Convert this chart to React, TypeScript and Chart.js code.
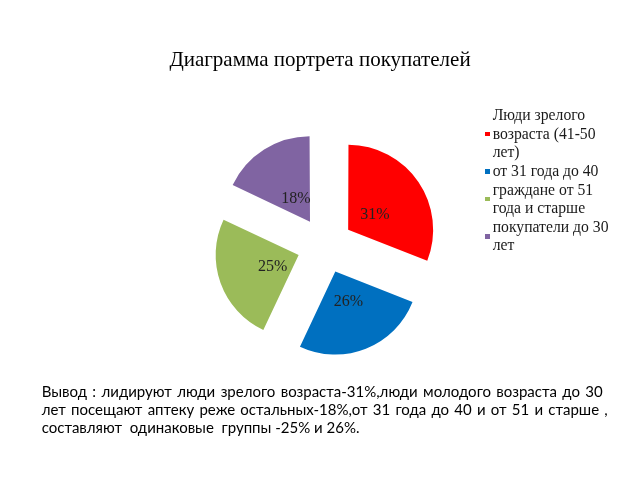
import React, { useEffect, useRef } from "react";
import { Chart, registerables } from "chart.js";

Chart.register(...registerables);

const titleText = "Диаграмма портрета покупателей";
const categories = [
  "Люди зрелого возраста (41-50 лет)",
  "от 31 года до 40",
  "граждане от 51 года и старше",
  "покупатели до 30 лет",
];
const legendLines = [
  ["Люди зрелого", "возраста (41-50", "лет)"],
  ["от 31 года до 40"],
  ["граждане от 51", "года и старше"],
  ["покупатели до 30", "лет"],
];
const values = [31, 26, 25, 18];
const valueLabels = ["31%", "26%", "25%", "18%"];
const colors = ["#FF0000", "#0070C0", "#9BBB59", "#8064A2"];
const conclusionLines = [
  "Вывод : лидируют люди зрелого возраста-31%,люди молодого возраста до 30",
  "лет  посещают  аптеку реже  остальных-18%,от 31 года до 40 и от 51 и старше ,",
  "составляют  одинаковые  группы -25% и 26%.",
];

const sliceLabelPlugin = {
  id: "sliceLabels",
  afterDatasetsDraw(chart: any) {
    const ctx = chart.ctx;
    const meta = chart.getDatasetMeta(0);
    ctx.save();
    ctx.font = "16px 'Liberation Serif', 'Times New Roman', serif";
    ctx.fillStyle = "#222";
    ctx.textAlign = "center";
    ctx.textBaseline = "middle";
    meta.data.forEach((arc: any, i: number) => {
      const p = arc.getProps(["x", "y", "startAngle", "endAngle", "outerRadius"], true);
      const mid = (p.startAngle + p.endAngle) / 2;
      const off = (arc.options.offset || 0) / 4;
      const r = off + p.outerRadius * 0.36;
      ctx.fillText(valueLabels[i], p.x + 2 + Math.cos(mid) * r, p.y + 2 + Math.sin(mid) * r);
    });
    ctx.restore();
  },
};

export default function App() {
  const canvasRef = useRef<HTMLCanvasElement | null>(null);

  useEffect(() => {
    if (!canvasRef.current) return;
    const chart = new Chart(canvasRef.current, {
      type: "pie",
      data: {
        labels: categories,
        datasets: [
          {
            data: values,
            backgroundColor: colors,
            borderWidth: 0,
            offset: 112,
          },
        ],
      },
      options: {
        responsive: false,
        animation: false,
        radius: 83,
        layout: { padding: { left: 10, right: 0, top: 11, bottom: 0 } },
        plugins: {
          legend: { display: false },
          title: { display: false },
          tooltip: { enabled: false },
        },
      } as any,
      plugins: [sliceLabelPlugin],
    });
    return () => chart.destroy();
  }, []);

  const lineH = 18.6;

  return (
    <div style={{ position: "absolute", left: 0, top: 0, width: 640, height: 480, background: "#fff", overflow: "hidden" }}>
      <canvas ref={canvasRef} width={640} height={480} style={{ position: "absolute", left: 0, top: 0 }} />
      <div
        style={{
          position: "absolute",
          left: 0,
          top: 49.1,
          width: 640,
          textAlign: "center",
          fontFamily: "'Liberation Serif', 'Times New Roman', serif",
          fontSize: 21,
          lineHeight: "21px",
          color: "#000",
          whiteSpace: "pre",
        }}
      >
        {titleText}
      </div>
      <div
        style={{
          position: "absolute",
          left: 485,
          top: 106.2,
          width: 155,
          fontFamily: "'Liberation Serif', 'Times New Roman', serif",
          fontSize: 15.7,
          lineHeight: lineH + "px",
          color: "#1a1a1a",
        }}
      >
        {legendLines.map((lines, i) => {
          const h = lines.length * lineH;
          return (
            <div key={i} style={{ position: "relative", height: h }}>
              <div
                style={{
                  position: "absolute",
                  left: 0,
                  top: h / 2 - 2.25,
                  width: 4.5,
                  height: 4.5,
                  background: colors[i],
                }}
              />
              {lines.map((t, j) => (
                <div key={j} style={{ paddingLeft: 7.7, whiteSpace: "pre" }}>
                  {t}
                </div>
              ))}
            </div>
          );
        })}
      </div>
      <div
        style={{
          position: "absolute",
          left: 41.7,
          top: 382.2,
          fontFamily: "Lato, 'Open Sans', sans-serif",
          fontSize: 15,
          lineHeight: "18px",
          color: "#000",
        }}
      >
        {conclusionLines.map((t, i) => (
          <div
            key={i}
            style={{
              whiteSpace: i < 2 ? "normal" : "pre",
              width: i === 0 ? 561 : i === 1 ? 566 : undefined,
              textAlign: i < 2 ? "justify" : "left",
              textAlignLast: i < 2 ? "justify" : "auto",
            } as any}
          >
            {t}
          </div>
        ))}
      </div>
    </div>
  );
}
